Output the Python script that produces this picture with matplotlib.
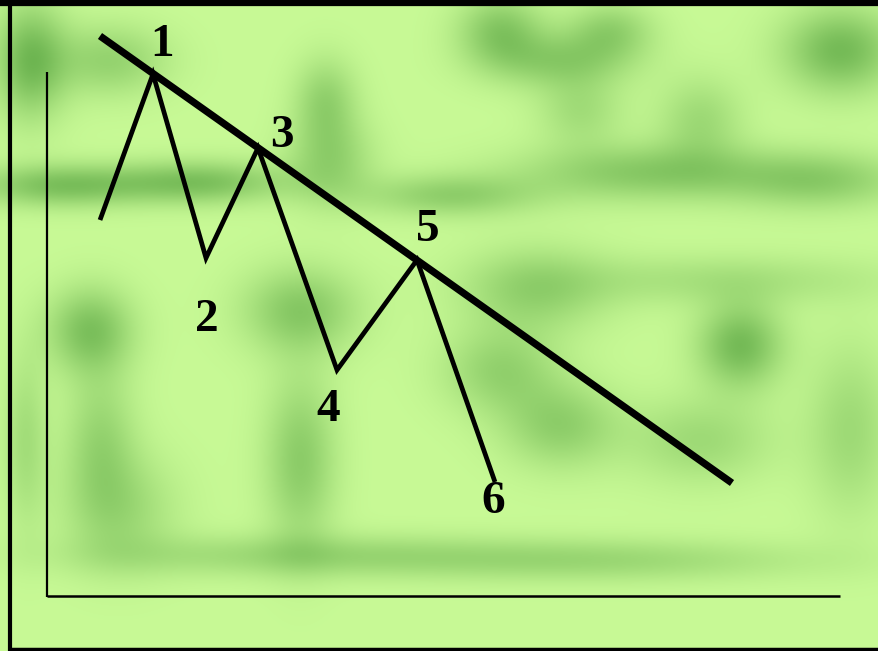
import numpy as np
import matplotlib
matplotlib.use("Agg")
import matplotlib.pyplot as plt

W, H = 879, 651

# zigzag price path (x, y in picture units, y grows downward)
path_x = [100, 153, 206, 258, 337, 417, 495]
path_y = [220, 74, 258, 148, 370, 260, 482]

# falling trend line through the highs 1, 3, 5
trend_x = [100, 732]
trend_y = [36, 483]

# point labels and where they sit
labels = ["1", "2", "3", "4", "5", "6"]
label_x = [162, 207, 282, 328, 428, 493]
label_y = [45, 320, 136, 410, 230, 502]

# blurred background blobs: x, y, sx, sy, strength
blobs = [
    (30, 60, 25, 40, 0.9), (110, 60, 40, 25, 0.55),
    (60, 185, 60, 15, 0.8), (200, 182, 60, 15, 0.8), (330, 160, 30, 30, 0.55),
    (450, 195, 60, 15, 0.6), (650, 172, 90, 20, 0.7), (820, 180, 60, 20, 0.6),
    (500, 30, 30, 25, 0.7), (560, 60, 50, 20, 0.6), (610, 30, 30, 20, 0.55),
    (840, 50, 40, 30, 0.9), (325, 100, 22, 30, 0.55), (700, 120, 30, 30, 0.45),
    (580, 110, 30, 25, 0.4), (720, 280, 120, 18, 0.35),
    (90, 330, 30, 30, 0.8), (100, 440, 25, 50, 0.5), (25, 440, 15, 60, 0.4),
    (300, 310, 40, 30, 0.7), (300, 460, 25, 60, 0.65),
    (535, 290, 50, 30, 0.55), (500, 370, 40, 30, 0.55), (560, 425, 40, 30, 0.6),
    (740, 345, 30, 30, 0.9), (700, 440, 50, 30, 0.45),
    (300, 555, 150, 15, 0.45), (600, 560, 150, 15, 0.45),
    (120, 510, 40, 40, 0.45), (850, 430, 30, 60, 0.45),
]

gx, gy = np.meshgrid(np.arange(W), np.arange(H))
wgt = np.zeros((H, W))
for bx, by, sx, sy, s in blobs:
    wgt += s * np.exp(-((gx - bx) ** 2 / (2 * sx ** 2) + (gy - by) ** 2 / (2 * sy ** 2)))
wgt = np.clip(wgt, 0, 1)[..., None]
light = np.array([200, 250, 150]) / 255
dark = np.array([108, 180, 80]) / 255
bg = light * (1 - wgt) + dark * wgt

fig = plt.figure(figsize=(W / 100, H / 100), dpi=100)
ax = fig.add_axes([0, 0, 1, 1])
ax.imshow(bg, extent=[0, W, H, 0], interpolation="bilinear")
ax.set_xlim(0, W)
ax.set_ylim(H, 0)
ax.axis("off")

# frame
ax.plot([0, W], [3, 3], color="black", lw=4.5, solid_capstyle="butt")
ax.plot([10, 10], [0, H], color="black", lw=3, solid_capstyle="butt")
ax.plot([10, W], [649, 649], color="black", lw=2.5, solid_capstyle="butt")

# axes of the sketch
ax.plot([47, 47], [72, 597], color="black", lw=1.6, solid_capstyle="butt")
ax.plot([47, 840], [596, 596], color="black", lw=1.8, solid_capstyle="butt")

ax.plot(path_x, path_y, color="black", lw=3.4, solid_joinstyle="miter", solid_capstyle="butt")
ax.plot(trend_x, trend_y, color="black", lw=5.2, solid_capstyle="butt")

for t, x, y in zip(labels, label_x, label_y):
    ax.text(x, y, t, ha="center", va="center", fontsize=34, fontweight="bold",
            family="Liberation Serif", color="black")

fig.savefig("out.png", dpi=100)
